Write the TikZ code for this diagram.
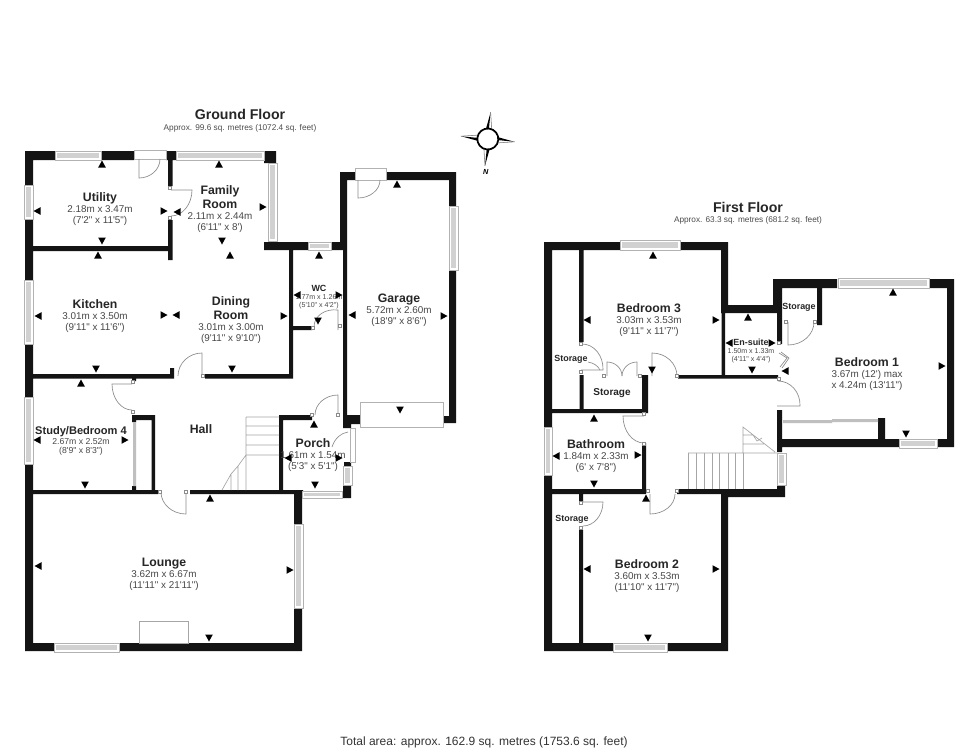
\documentclass[tikz,border=0pt]{standalone}
\usepackage{xcolor}
\usepackage{fontspec}
\newfontfamily\plan{Liberation Sans}
\newcommand{\nm}[1]{{\fontsize{9.2}{8.3}\selectfont\bfseries\color{black!85}#1}}
\newcommand{\nms}[1]{{\fontsize{6.7}{6}\selectfont\bfseries\color{black!85}#1}}
% hinge, tip of leaf, closing point
\newcommand{\swing}[6]{\draw [door] (#1,#2) -- (#3,#4) .. controls ({#3+0.55*(#5-#1)},{#4+0.55*(#6-#2)}) and ({#5+0.55*(#3-#1)},{#6+0.55*(#4-#2)}) .. (#5,#6);}
\tikzset{
	wall/.style={fill=black!92},
	pane/.style={fill=white, draw=black!30, line width=0.5pt},
	glass/.style={fill=black!18},
	door/.style={draw=black!45, line width=0.5pt},
	jamb/.style={fill=white, draw=black!45, line width=0.4pt},
	tread/.style={draw=black!35, line width=0.5pt},
	room/.style={align=center, inner sep=0pt, text=black!72, font=\plan\fontsize{7.4}{8.3}\selectfont},
	smallroom/.style={align=center, inner sep=0pt, text=black!72, font=\plan\fontsize{5.3}{6}\selectfont},
	label/.style={inner sep=0pt, text=black!85, font=\plan\bfseries\fontsize{6.7}{8}\selectfont},
	floorname/.style={inner sep=0pt, text=black!85, font=\plan\bfseries\fontsize{10.6}{12}\selectfont},
	approx/.style={inner sep=0pt, text=black!70, font=\plan\fontsize{6.2}{8}\selectfont}
}
\begin{document}
\begin{tikzpicture}[x=0.75pt, y=-0.75pt]
	\useasboundingbox [fill=white] (0,0) rectangle (980,751);
	% ground floor walls
	\fill [wall]	(25,151) rectangle (55,160)
					(101,151) rectangle (134,160)
					(166,151) rectangle (176,160)
					(264,151) rectangle (276,163)
					(25,151) rectangle (33,185)
					(25,219) rectangle (33,280)
					(25,344) rectangle (33,397)
					(25,464) rectangle (33,651)
					(25,643) rectangle (54,651)
					(119,643) rectangle (302,651)
					(294,490) rectangle (302,524)
					(294,608) rectangle (302,651)
					(168,160) rectangle (172.5,186)
					(168,220) rectangle (172.5,260)
					(33,246) rectangle (172,251)
					(264,242) rectangle (308,250)
					(331,242) rectangle (347,250)
					(289,250) rectangle (293,378)
					(293,326) rectangle (312,330)
					(33,374) rectangle (174,378.5)
					(170,368) rectangle (174,378)
					(205,374) rectangle (293,378.5)
					(33,490) rectangle (158,494)
					(190,490) rectangle (294,494)
					(132,415) rectangle (155,420)
					(132,415) rectangle (136,422)
					(151.5,415) rectangle (155,490)
					(132,376) rectangle (136,381)
					(132,486) rectangle (136,490)
					(279,415) rectangle (283,490)
					(279,415) rectangle (312,420)
					(343,415) rectangle (351,428)
					(344,462) rectangle (351,466)
					(343,486) rectangle (351,498)
					(294,490) rectangle (303,498)
					(340,172) rectangle (347,242)
					(343,242) rectangle (347,424)
					(340,172) rectangle (355,180)
					(386,172) rectangle (456,180)
					(449,172) rectangle (456,206)
					(449,270) rectangle (456,423)
					(343,415) rectangle (360,424)
					(443,416) rectangle (456,423);
	% first floor walls
	\fill [wall]	(544,242) rectangle (620,250)
					(680,242) rectangle (728,250)
					(544,242) rectangle (552,427)
					(544,475) rectangle (552,651)
					(544,643) rectangle (613,651)
					(667,643) rectangle (728,651)
					(721,242) rectangle (728,305)
					(721,305) rectangle (781,313)
					(721.5,313) rectangle (725,376)
					(579,250) rectangle (583.5,342)
					(579.5,375) rectangle (583.5,410)
					(552,409) rectangle (648,413)
					(642,375) rectangle (648,413)
					(642,443) rectangle (646,490)
					(552,489) rectangle (646,494)
					(678,375) rectangle (778,378.5)
					(677,489) rectangle (721,494)
					(721,490) rectangle (728,651)
					(721,489) rectangle (785,497)
					(777,485) rectangle (785,497)
					(579,494) rectangle (583,502)
					(579,530) rectangle (583,643)
					(773,279) rectangle (837,288)
					(929,279) rectangle (954,288)
					(947,279) rectangle (954,447)
					(773,279) rectangle (782,312)
					(777,312) rectangle (782,344)
					(817,287) rectangle (822,325)
					(777,410) rectangle (782,452)
					(782,439) rectangle (899,447)
					(777,439) rectangle (782,452)
					(937,439) rectangle (954,447)
					(878,418) rectangle (885,439);
	% windows
	\foreach \xa/\ya/\xb/\yb in {55/151/101/160, 176/151/264/160, 268/163/277/241, 24/185/33/219, 24/280/33/344, 24/397/33/464, 54/643/119/652, 294/524/303/608, 308/242/331/250, 302/491/342/498, 343/466/352/485, 449/206/458/270, 620/240/680/250, 544/427/552/475, 613/643/667/652, 838/278/929/288, 899/439/937/448, 777/453/786/485}{
		\draw [pane] (\xa,\ya) rectangle (\xb,\yb);
		\fill [glass] (\xa+2,\ya+2) rectangle (\xb-2,\yb-2);
	}
	% frames and sills
	\draw [pane]	(134,150) rectangle (166,159)
					(355,168) rectangle (386,180)
					(360,402) rectangle (443,427)
					(350,428) rectangle (355,462);
	\draw [tread]	(139.5,621) rectangle (188.5,643);
	\fill [black!25]	(133,422) rectangle (136,486)
						(783,420) rectangle (832,423)
						(832,419) rectangle (878,422);
	% doors
	\swing{139}{159}{139}{178}{160}{159}
	\swing{171}{190}{192}{190}{171}{216}
	\swing{202}{376}{202}{353}{178}{376}
	\swing{132}{384}{112}{384}{132}{410}
	\swing{186}{492}{186}{514}{161}{492}
	\swing{338}{415}{338}{395}{315}{415}
	\swing{338}{330}{338}{310}{314}{327}
	\swing{358}{180}{358}{198}{380}{180}
	\swing{581}{370}{603}{370}{582}{344}
	\swing{607}{376}{607}{362}{622}{376}
	\swing{637}{376}{637}{362}{622}{376}
	\swing{652}{376}{652}{353}{677}{376}
	\swing{777}{406}{800}{406}{778}{381}
	\swing{788}{322}{788}{345}{814}{322}
	\swing{644}{416}{623}{416}{644}{443}
	\swing{650}{494}{650}{514}{675}{494}
	\swing{583}{502}{603}{502}{583}{526}
	\draw [door] (332,447) .. controls (335,438) and (341,433) .. (348,432);
	\draw [door] (588,362) .. controls (594,363) and (598,366) .. (600,370);
	\draw [door] (779,353) -- (787,358) -- (780,367)
				(781,352) -- (789,358) -- (782,368);
	\foreach \x/\y in {170/188, 170/218, 203/376, 133/382, 133/412, 160/492, 186/492, 338/415, 313/328, 340/326, 312/415, 581/344, 581/372, 604/376, 640/376, 677/376, 779/343, 779/379, 786/322, 815/322, 644/414, 644/444, 648/491, 677/491, 581/503, 581/528}{
		\draw [jamb] (\x-1.5,\y-1.5) rectangle (\x+1.5,\y+1.5);
	}
	% ground floor stairs
	\draw [tread]	(246,417) -- (279,417)
					(246,426) -- (279,426)
					(246,435) -- (279,435)
					(246,445) -- (279,445)
					(246,455) -- (279,455)
					(246,417) -- (246,490)
					(238,466) -- (238,490)
					(231,474) -- (231,490)
					(222,490) -- (231,474) -- (238,466) -- (246,455);
	% first floor stairs
	\foreach \x in {688,696,704,712,719,728,735,743}{
		\draw [tread] (\x,453) -- (\x,489);
	}
	\draw [tread]	(688,453) -- (777,453)
					(743,453) -- (743,427) -- (775,452)
					(743,435) -- (753,435) -- (757,441) -- (762,438)
					(743,444) -- (764,444);
	% compass
	\begin{scope}[shift={(487.8,139)}, rotate=-6]
		\foreach \a in {0,90,180,270}{
			\fill [black, rotate=\a] (8,-3.2) -- (27,0) -- (8,0) -- cycle;
			\draw [black!55, rotate=\a, line width=0.4pt] (8,3.2) -- (27,0);
		}
		\draw [fill=white, line width=1.3pt] (0,0) circle (10.5);
	\end{scope}
	\node [inner sep=0pt, font=\plan\bfseries\itshape\fontsize{5.5}{6}\selectfont] (north) at (485.7,171.7) {N};
	% titles
	\node [floorname] (groundtitle) at (240,114) {Ground Floor};
	\node [approx] (groundarea) at (240,128.5) {Approx. 99.6 sq. metres (1072.4 sq. feet)};
	\node [floorname] (firsttitle) at (748,207) {First Floor};
	\node [approx] (firstarea) at (748,220) {Approx. 63.3 sq. metres (681.2 sq. feet)};
	\node [inner sep=0pt, text=black!80, font=\plan\fontsize{9}{10}\selectfont] (total) at (484,742) {Total area: approx. 162.9 sq. metres (1753.6 sq. feet)};
	% ground floor rooms
	\node [room] (utility) at (100,209) {\nm{Utility}\\2.18m x 3.47m\\(7'2" x 11'5")};
	\node [room] (family) at (220,209) {\nm{Family}\\[2pt]\nm{Room}\\2.11m x 2.44m\\(6'11" x 8')};
	\node [room] (kitchen) at (95,316) {\nm{Kitchen}\\3.01m x 3.50m\\(9'11" x 11'6")};
	\node [room] (dining) at (231,320) {\nm{Dining}\\[2pt]\nm{Room}\\3.01m x 3.00m\\(9'11" x 9'10")};
	\node [smallroom] (wc) at (319,297) {\nms{WC}\\1.77m x 1.26m\\(5'10" x 4'2")};
	\node [room] (garage) at (399,310) {\nm{Garage}\\5.72m x 2.60m\\(18'9" x 8'6")};
	\node [room] (porch) at (313,455) {\nm{Porch}\\1.61m x 1.54m\\(5'3" x 5'1")};
	\node [room] (hall) at (201,429) {\nm{Hall}};
	\node [room, font=\plan\fontsize{6.5}{7.4}\selectfont] (study) at (81,441) {{\fontsize{8.3}{8}\selectfont\bfseries\color{black!85}Study/Bedroom 4}\\2.67m x 2.52m\\(8'9" x 8'3")};
	\node [room] (lounge) at (164,574) {\nm{Lounge}\\3.62m x 6.67m\\(11'11" x 21'11")};
	% first floor rooms
	\node [room] (bedthree) at (649,320) {\nm{Bedroom 3}\\3.03m x 3.53m\\(9'11" x 11'7")};
	\node [smallroom] (ensuite) at (751,351) {\nms{En-suite}\\1.50m x 1.33m\\(4'11" x 4'4")};
	\node [room] (bedone) at (867,374) {\nm{Bedroom 1}\\3.67m (12') max\\x 4.24m (13'11")};
	\node [room] (bathroom) at (596,456) {\nm{Bathroom}\\1.84m x 2.33m\\(6' x 7'8")};
	\node [room] (bedtwo) at (647,576) {\nm{Bedroom 2}\\3.60m x 3.53m\\(11'10" x 11'7")};
	\node [label] (storeleft) at (571,359) {Storage};
	\node [label, font=\plan\bfseries\fontsize{7.5}{8}\selectfont] (storemid) at (612,393) {Storage};
	\node [label] (storebed) at (799,307) {Storage};
	\node [label] (storelow) at (572,519) {Storage};
	% measuring marks
	\foreach \x/\y in {102/164, 98/255, 219/164, 230/255, 319/255, 397/184, 314/424, 81/383, 210/498, 653/255, 748/317, 893/292, 594/418, 646/498}{
		\fill (\x-3.8,\y+3.5) -- (\x+3.8,\y+3.5) -- (\x,\y-3.5) -- cycle;
	}
	\foreach \x/\y in {102/241, 96/369, 222/241, 232/369, 318/321, 400/410, 315/485, 85/485, 209/638, 652/370, 752/370, 906/434, 594/484, 648/638}{
		\fill (\x-3.8,\y-3.5) -- (\x+3.8,\y-3.5) -- (\x,\y+3.5) -- cycle;
	}
	\foreach \x/\y in {37/211, 38/316, 177/212, 176/315, 297/295, 352/315, 288/458, 37/440, 38/566, 587/320, 729/343, 785/371, 556/456, 587/569}{
		\fill (\x+3.5,\y-3.8) -- (\x+3.5,\y+3.8) -- (\x-3.5,\y) -- cycle;
	}
	\foreach \x/\y in {164/211, 164/315, 263/207, 284/316, 339/295, 444/316, 339/458, 125/440, 290/570, 716/320, 772/343, 942/366, 638/455, 716/569}{
		\fill (\x-3.5,\y-3.8) -- (\x-3.5,\y+3.8) -- (\x+3.5,\y) -- cycle;
	}
\end{tikzpicture}
\end{document}
